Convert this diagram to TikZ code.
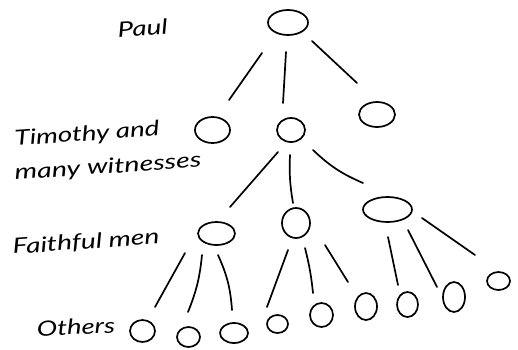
\documentclass[tikz,border=0pt]{standalone}
\usepackage{fontspec}
\newfontfamily\hand{Lato}
\usetikzlibrary{shapes.geometric,calc}
\begin{document}
\begin{tikzpicture}[x=1pt,y=-1pt,
  circ/.style 2 args={ellipse, draw, line width=1.7pt, inner sep=0pt,
    minimum width=#1pt, minimum height=#2pt},
  link/.style={line width=1.7pt, line cap=round},
  lbl/.style={font=\hand\itshape\fontsize{21}{24}\selectfont, inner sep=0pt, anchor=base west}]
\useasboundingbox (0,0) rectangle (518,349);
% nodes
\node[circ={40}{25}] (root) at (288,22.5) {};
\node[circ={35}{26}] (p1) at (212.5,130) {};
\node[circ={28}{24}] (p2) at (291,130) {};
\node[circ={36}{25}] (p3) at (377,114.5) {};
\node[circ={37}{23}] (q1) at (216.5,233.5) {};
\node[circ={28}{30}] (q2) at (296,223) {};
\node[circ={49}{25}] (q3) at (387.5,209.5) {};
\node[circ={25}{22}] (o1) at (142.5,331) {};
\node[circ={23}{20}] (o2) at (188.5,337) {};
\node[circ={28}{20}] (o3) at (234,333) {};
\node[circ={21}{18}] (o4) at (277.5,324) {};
\node[circ={23}{24}] (o5) at (321.5,315) {};
\node[circ={22}{27}] (o6) at (366,306.5) {};
\node[circ={21}{25}] (o7) at (407.5,304.5) {};
\node[circ={22}{30}] (o8) at (454,297) {};
\node[circ={23}{18}] (o9) at (498.5,281) {};
% connectors
\draw[link] ($(root)+(-26,30.5)$) -- ($(p1)+(16.5,-30)$);
\draw[link] ($(root)+(-2,29.5)$) -- ($(p2)+(-8,-27)$);
\draw[link] ($(root)+(24,18.5)$) -- ($(p3)+(-20,-31.5)$);
\draw[link] ($(p2)+(-13,22)$) -- ($(q1)+(13.5,-26.5)$);
\draw[link] ($(p2)+(-1,25)$) to[bend right=6] ($(q2)+(-3,-20)$);
\draw[link] ($(p2)+(22,20)$) to[bend right=10] ($(q3)+(-24.5,-26.5)$);
\draw[link] ($(q1)+(-31.5,19.5)$) -- ($(o1)+(12.5,-24)$);
\draw[link] ($(q1)+(-14.5,21.5)$) to[bend left=8] ($(o2)+(-0.5,-25)$);
\draw[link] ($(q1)+(1.5,21.5)$) to[bend left=10] ($(o3)+(-2,-23)$);
\draw[link] ($(q2)+(-8,27)$) -- ($(o4)+(-10.5,-17)$);
\draw[link] ($(q2)+(9,25)$) to[bend left=4] ($(o5)+(-8.5,-22)$);
\draw[link] ($(q2)+(29,22)$) -- ($(o6)+(-18,-24.5)$);
\draw[link] ($(q3)+(0.5,27.5)$) -- ($(o7)+(-9.5,-19.5)$);
\draw[link] ($(q3)+(20.5,20.5)$) -- ($(o8)+(-17,-10)$);
\draw[link] ($(q3)+(34.5,8.5)$) -- ($(o9)+(-23.5,-26)$);
% labels
\node[lbl, rotate=4] (lpaul) at (118,38) {\resizebox{50pt}{\height}{Paul}};
\node[lbl, rotate=4] (ltim) at (15,146) {\resizebox{145pt}{\height}{Timothy and}};
\node[lbl, rotate=4] (lmany) at (15,180) {\resizebox{187pt}{\height}{many witnesses}};
\node[lbl, rotate=4] (lfaith) at (13,254) {\resizebox{147pt}{\height}{Faithful men}};
\node[lbl, rotate=2] (loth) at (37,336) {\resizebox{78pt}{\height}{Others}};
\end{tikzpicture}
\end{document}
